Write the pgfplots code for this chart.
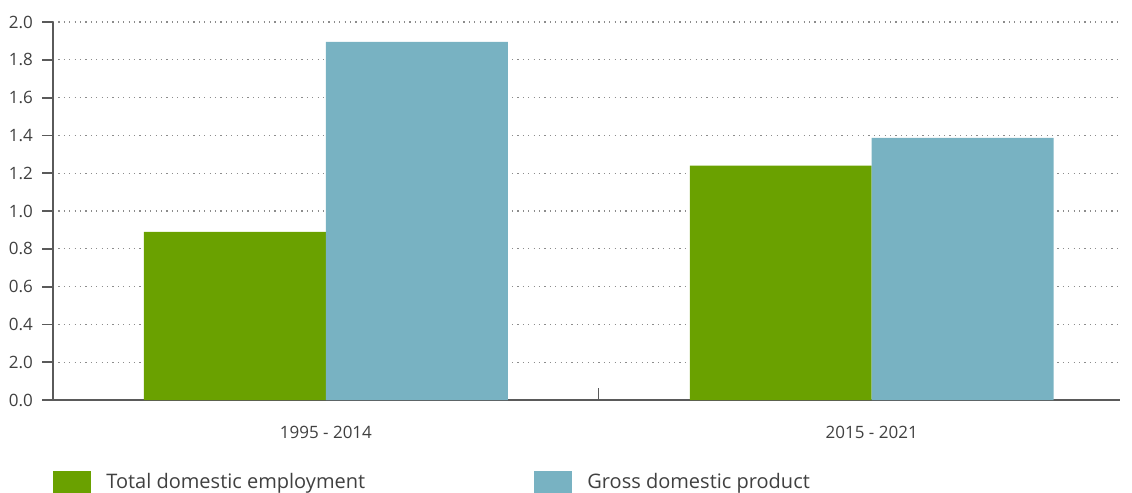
\documentclass[border=0pt]{standalone}
\usepackage{fontspec}
\setmainfont{Open Sans}
\usepackage{pgfplots}
\pgfplotsset{compat=1.18}
\definecolor{tgreen}{RGB}{106,161,0}
\definecolor{tblue}{RGB}{120,178,194}
\definecolor{txt}{RGB}{64,64,64}
\definecolor{axc}{RGB}{90,90,90}
\begin{document}
\begin{tikzpicture}
\path[use as bounding box] (0,0) rectangle (566pt,-246.5pt);
\begin{axis}[
  at={(26.5pt,-200pt)}, anchor=south west,
  scale only axis, width=533.5pt, height=189pt,
  clip=false,
  xmin=-0.5, xmax=1.455, ymin=0, ymax=2,
  axis x line=bottom, axis y line=left,
  axis line style={-, color=axc, line width=0.8pt},
  xtick={0,1}, xticklabels={1995 - 2014, 2015 - 2021},
  x tick label style={font=\fontsize{8.5}{10}\selectfont, text=txt, yshift=-4pt},
  xtick style={draw opacity=0},
  extra x ticks={0.5}, extra x tick labels={},
  extra x tick style={xtick style={draw=axc, draw opacity=1, line width=0.6pt}, tick align=inside, major tick length=6pt, grid=none},
  ytick={0,0.2,0.4,0.6,0.8,1.0,1.2,1.4,1.6,1.8,2.0},
  yticklabels={0.0,2.0,0.4,0.6,0.8,1.0,1.2,1.4,1.6,1.8,2.0},
  y tick label style={font=\fontsize{8.5}{10}\selectfont, text=txt, xshift=-1pt},
  tick align=outside, major tick length=5.5pt,
  ymajorgrids, major grid style={draw=gray!90, line width=0.6pt, dash pattern=on 0.6pt off 2.1pt},
  legend columns=2,
  legend style={at={(0,0)}, anchor=north west, yshift=-35.5pt, draw=none, inner sep=0pt,
    font=\fontsize{10}{12}\selectfont, text=txt,
    nodes={inner sep=0pt, anchor=west},
    /tikz/every odd column/.append style={column sep=7.5pt}},
]
\addplot[ybar, bar width=0.3333, fill=tgreen, draw=none, bar shift=-0.16667,
  legend image code/.code={\fill[tgreen] (0pt,-5.5pt) rectangle (19pt,5.5pt);}]
  coordinates {(0,0.89) (1,1.24)};
\addplot[ybar, bar width=0.3333, fill=tblue, draw=none, bar shift=0.16667,
  legend image code/.code={\fill[tblue] (0pt,-5.5pt) rectangle (19pt,5.5pt);}]
  coordinates {(0,1.895) (1,1.387)};
\legend{\makebox[214pt][l]{Total domestic employment}, Gross domestic product}
% y-axis tick marks
\addplot[sharp plot, draw=axc, line width=0.9pt, mark=none, forget plot, empty line=jump] table {
x y
-0.5201 0
-0.5 0

-0.5201 0.2
-0.5 0.2

-0.5201 0.4
-0.5 0.4

-0.5201 0.6
-0.5 0.6

-0.5201 0.8
-0.5 0.8

-0.5201 1.0
-0.5 1.0

-0.5201 1.2
-0.5 1.2

-0.5201 1.4
-0.5 1.4

-0.5201 1.6
-0.5 1.6

-0.5201 1.8
-0.5 1.8

-0.5201 2.0
-0.5 2.0
};
\end{axis}
\end{tikzpicture}
\end{document}
